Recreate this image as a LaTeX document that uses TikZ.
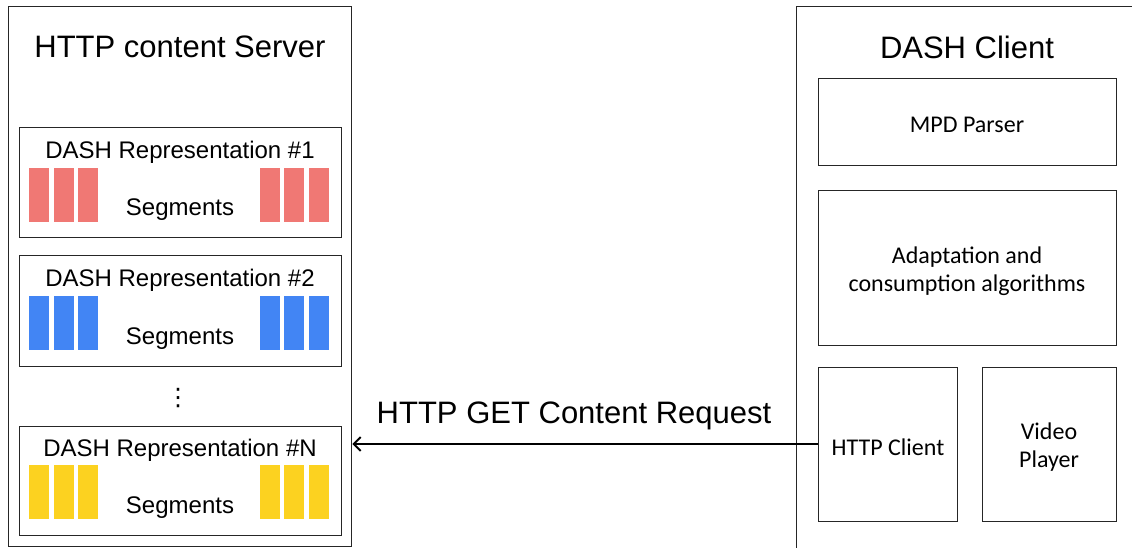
\documentclass[tikz,border=0pt]{standalone}
\usepackage{fontspec}
\setmainfont{Liberation Sans}
\newfontfamily\calib{Carlito}
\newfontfamily\dejavu{DejaVu Sans}
\usetikzlibrary{arrows.meta}
\definecolor{segred}{RGB}{240,120,116}
\definecolor{segblue}{RGB}{66,133,244}
\definecolor{segyel}{RGB}{252,210,32}
\begin{document}
\begin{tikzpicture}[x=1pt,y=-1pt,
 box/.style={draw=black!85, line width=1.3pt, anchor=north west, inner sep=0pt},
 seg/.style={anchor=north west, inner sep=0pt, minimum width=20pt, minimum height=54pt},
 big/.style={font=\fontsize{31}{36}\selectfont},
 mid/.style={font=\fontsize{24}{28}\selectfont},
 cal/.style={font=\calib\fontsize{24}{28}\selectfont, align=center}]
\useasboundingbox (0,0) rectangle (1132,548);
\clip (0,0) rectangle (1132,548);
% server
\node[box, minimum width=343pt, minimum height=540pt] (server) at (8,6) {};
\node[big] (stitle) at (180,47) {HTTP content Server};
% representations
\node[box, minimum width=322pt, minimum height=110pt] (rep1) at (19,127) {};
\node[box, minimum width=322pt, minimum height=111pt] (rep2) at (19,255) {};
\node[box, minimum width=322pt, minimum height=109pt] (repN) at (19,426) {};
\node[mid] (rep1t) at (180,152) {DASH Representation \#1};
\node[mid] (rep2t) at (180,280) {DASH Representation \#2};
\node[mid] (repNt) at (180,450) {DASH Representation \#N};
\node[mid] (seg1) at (180,210) {Segments};
\node[mid] (seg2) at (180,339) {Segments};
\node[mid] (segN) at (180,508) {Segments};
\node[font=\dejavu\fontsize{24}{28}\selectfont, inner sep=0pt] (dots) at (178,398) {⋮};
% segment blocks
\foreach \c/\y/\n in {segred/168/a, segblue/296/b, segyel/465/c}{
  \foreach \x/\m in {29/1, 54/2, 78/3, 260/4, 284/5, 309/6}{
    \node[seg, fill=\c] (blk\n\m) at (\x,\y) {};
  }
}
% client
\node[box, minimum width=400pt, minimum height=600pt] (client) at (796,6) {};
\node[big] (ctitle) at (967,47) {DASH Client};
\node[box, minimum width=298pt, minimum height=87pt] (mpd) at (818,78) {};
\node[cal] (mpdt) at (967,125) {MPD Parser};
\node[box, minimum width=298pt, minimum height=155pt] (adapt) at (818,190) {};
\node[cal] (adaptt) at (967,271) {Adaptation and\\consumption algorithms};
\node[box, minimum width=139pt, minimum height=154pt] (httpc) at (818,367) {};
\node[cal] (httpct) at (888,447) {HTTP Client};
\node[box, minimum width=134pt, minimum height=154pt] (video) at (982,367) {};
\node[cal] (videot) at (1049,447) {Video\\Player};
% arrow
\draw[line width=2.2pt, -{Straight Barb[length=7pt,width=14pt,line width=2pt]}] (httpc.west |- 0,444) -- (server.east |- 0,444);
\node[big] (req) at (574,416) {HTTP GET Content Request};
\end{tikzpicture}
\end{document}
